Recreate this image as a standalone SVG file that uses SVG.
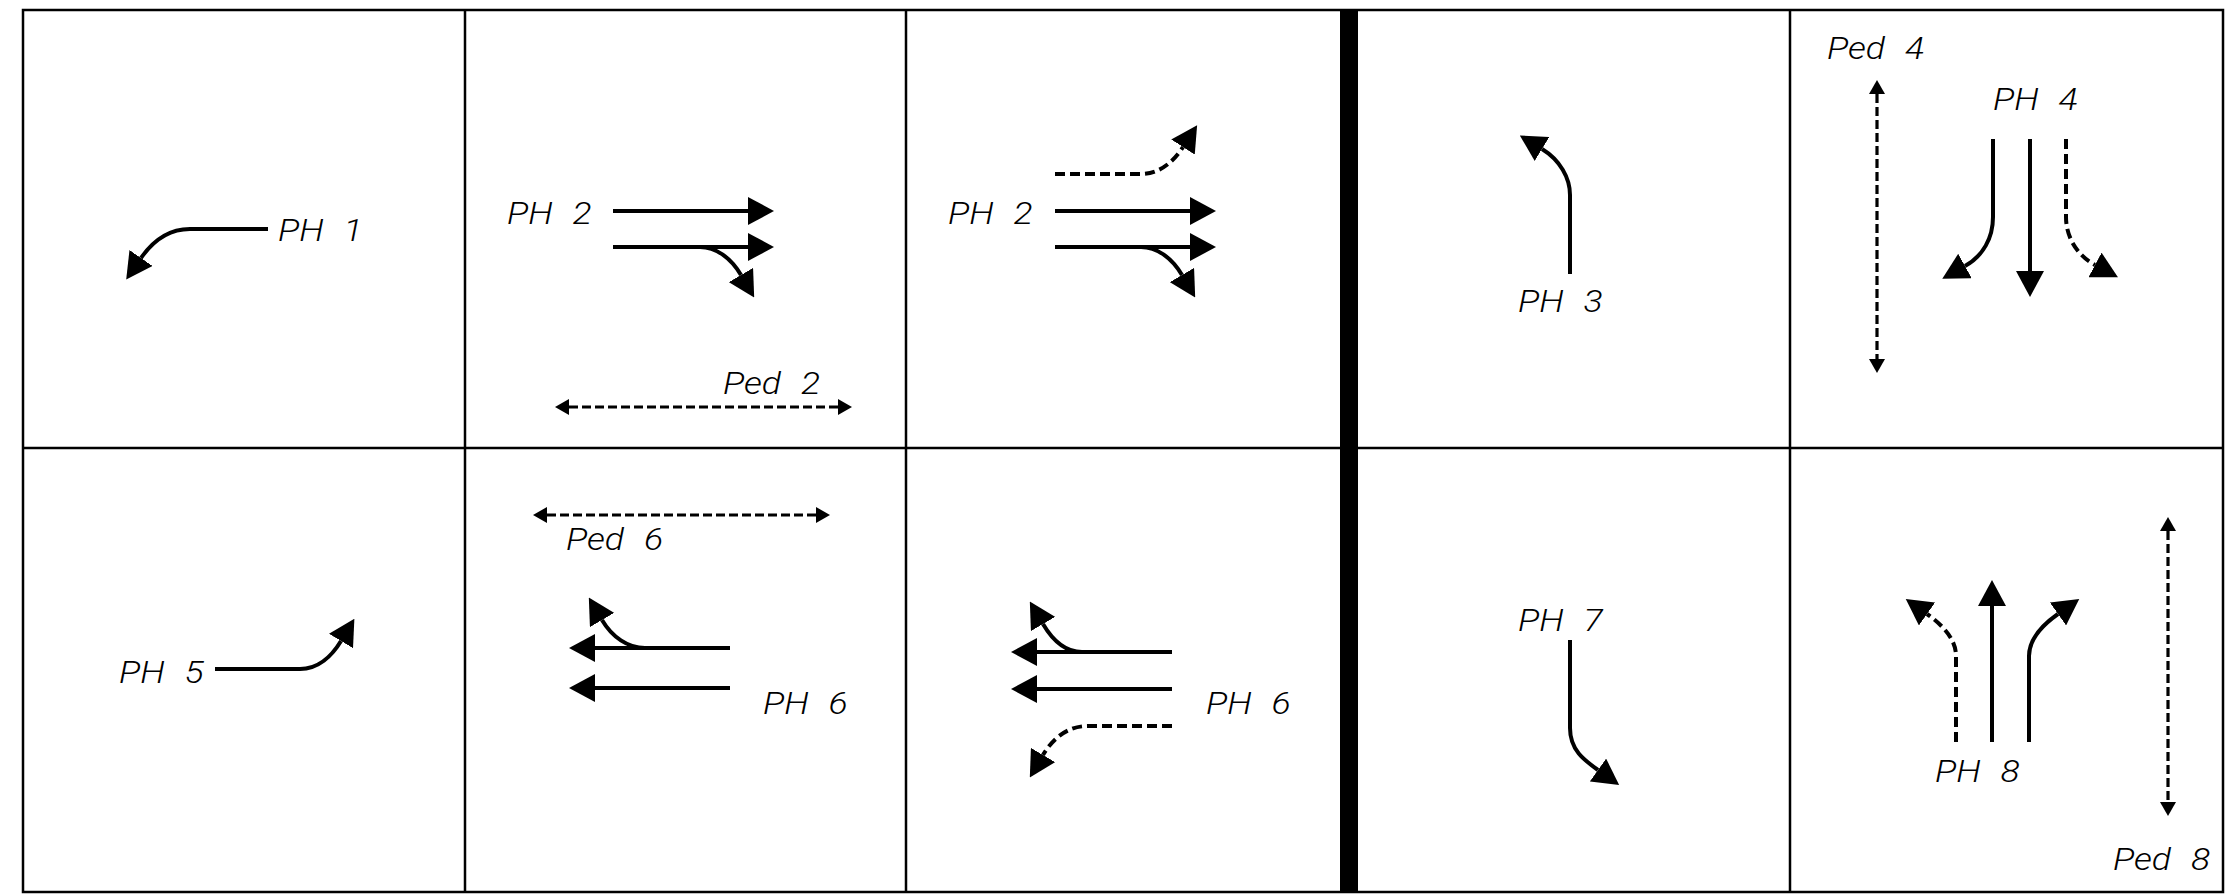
<svg xmlns="http://www.w3.org/2000/svg" width="2226" height="894" viewBox="0 0 2226 894">
  <defs>
    <marker id="ah" markerUnits="userSpaceOnUse" viewBox="0 -14 26 28" refX="0" refY="0" markerWidth="26" markerHeight="28" orient="auto">
      <path d="M0,-14 L26,0 L0,14 Z" fill="#000"/>
    </marker>
    <marker id="ps" markerUnits="userSpaceOnUse" viewBox="0 -8 14 16" refX="0" refY="0" markerWidth="14" markerHeight="16" orient="auto-start-reverse">
      <path d="M0,-8 L14,0 L0,8 Z" fill="#000"/>
    </marker>
    <style>
      .grid { stroke: #000; stroke-width: 2.5; fill: none; }
      .veh { stroke: #000; stroke-width: 4; fill: none; marker-end: url(#ah); }
      .dash { stroke-dasharray: 10 5; }
      .ped { stroke: #000; stroke-width: 3.2; fill: none; stroke-dasharray: 9 4; marker-start: url(#ps); marker-end: url(#ps); }
      .lbl { font-family: Roboto, "Liberation Sans", Arial, sans-serif; font-style: italic; font-weight: 300; font-size: 31.5px; fill: #000; }
    </style>
  </defs>
  <rect x="0" y="0" width="2226" height="894" fill="#fff"/>

  <g id="grid">
    <rect class="grid" x="23" y="10" width="2200" height="882" stroke-width="3.5"/>
    <line class="grid" x1="465" y1="10" x2="465" y2="892"/>
    <line class="grid" x1="906" y1="10" x2="906" y2="892"/>
    <line class="grid" x1="1790" y1="10" x2="1790" y2="892"/>
    <line class="grid" x1="23" y1="448" x2="2223" y2="448"/>
    <rect x="1340" y="10" width="18" height="882" fill="#000"/>
  </g>

  <g id="node-ph1">
    <text class="lbl" transform="translate(278 241) scale(1.13 1)">PH<tspan dx="10"> 1</tspan></text>
  </g>
  <g id="node-ph2a">
    <text class="lbl" transform="translate(507 224) scale(1.13 1)">PH<tspan dx="10"> 2</tspan></text>
    <text class="lbl" transform="translate(723 394) scale(1.13 1)">Ped<tspan dx="10"> 2</tspan></text>
  </g>
  <g id="node-ph2b">
    <text class="lbl" transform="translate(948 224) scale(1.13 1)">PH<tspan dx="10"> 2</tspan></text>
  </g>
  <g id="node-ph3">
    <text class="lbl" transform="translate(1518 312) scale(1.13 1)">PH<tspan dx="10"> 3</tspan></text>
  </g>
  <g id="node-ph4">
    <text class="lbl" transform="translate(1827 59) scale(1.13 1)">Ped<tspan dx="10"> 4</tspan></text>
    <text class="lbl" transform="translate(1993 110) scale(1.13 1)">PH<tspan dx="10"> 4</tspan></text>
  </g>
  <g id="node-ph5">
    <text class="lbl" transform="translate(119 683) scale(1.13 1)">PH<tspan dx="10"> 5</tspan></text>
  </g>
  <g id="node-ph6a">
    <text class="lbl" transform="translate(566 550) scale(1.13 1)">Ped<tspan dx="10"> 6</tspan></text>
    <text class="lbl" transform="translate(763 714) scale(1.13 1)">PH<tspan dx="10"> 6</tspan></text>
  </g>
  <g id="node-ph6b">
    <text class="lbl" transform="translate(1206 714) scale(1.13 1)">PH<tspan dx="10"> 6</tspan></text>
  </g>
  <g id="node-ph7">
    <text class="lbl" transform="translate(1518 631) scale(1.13 1)">PH<tspan dx="10"> 7</tspan></text>
  </g>
  <g id="node-ph8">
    <text class="lbl" transform="translate(1935 782) scale(1.13 1)">PH<tspan dx="10"> 8</tspan></text>
    <text class="lbl" transform="translate(2113 870) scale(1.13 1)">Ped<tspan dx="10"> 8</tspan></text>
  </g>

  <g id="connectors">
    <!-- PH 1 -->
    <path class="veh" d="M268,229 L190,229 C165,229 150,245 141,258"/>
    <!-- PH 2 (a) -->
    <path class="veh" d="M613,211 L748,211"/>
    <path class="veh" d="M613,247 L748,247"/>
    <path class="veh" d="M700,247 C716,247 731,258 741,275"/>
    <path class="ped" d="M569,407 L838,407"/>
    <!-- PH 2 (b) -->
    <path class="veh dash" d="M1055,174 L1140,174 C1158,174 1172,164 1183,147"/>
    <path class="veh" d="M1055,211 L1190,211"/>
    <path class="veh" d="M1055,247 L1190,247"/>
    <path class="veh" d="M1141,247 C1157,247 1172,258 1182,275"/>
    <!-- PH 3 -->
    <path class="veh" d="M1570,274 L1570,195 C1570,178 1560,160 1542,149"/>
    <!-- PH 4 / Ped 4 -->
    <path class="ped" d="M1877,94 L1877,359"/>
    <path class="veh" d="M1993,139 L1993,217 C1993,238 1983,256 1965,266"/>
    <path class="veh" d="M2030,139 L2030,271"/>
    <path class="veh dash" d="M2066,139 L2066,217 C2066,238 2078,256 2095,265"/>
    <!-- PH 5 -->
    <path class="veh" d="M215,669 L300,669 C318,669 332,656 341,641"/>
    <!-- PH 6 (a) / Ped 6 -->
    <path class="ped" d="M547,515 L816,515"/>
    <path class="veh" d="M730,648 L595,648"/>
    <path class="veh" d="M730,688 L595,688"/>
    <path class="veh" d="M645,648 C628,648 612,637 602,620"/>
    <!-- PH 6 (b) -->
    <path class="veh" d="M1172,652 L1037,652"/>
    <path class="veh" d="M1172,689 L1037,689"/>
    <path class="veh" d="M1082,652 C1066,652 1053,641 1043,624"/>
    <path class="veh dash" d="M1172,726 L1088,726 C1068,726 1053,738 1043,755"/>
    <!-- PH 7 -->
    <path class="veh" d="M1570,640 L1570,728 C1570,750 1584,760 1598,770"/>
    <!-- PH 8 / Ped 8 -->
    <path class="veh dash" d="M1956,742 L1956,656 C1956,640 1944,626 1927,614"/>
    <path class="veh" d="M1992,742 L1992,606"/>
    <path class="veh" d="M2029,742 L2029,656 C2029,640 2041,626 2058,614"/>
    <path class="ped" d="M2168,531 L2168,802"/>
  </g>
</svg>
